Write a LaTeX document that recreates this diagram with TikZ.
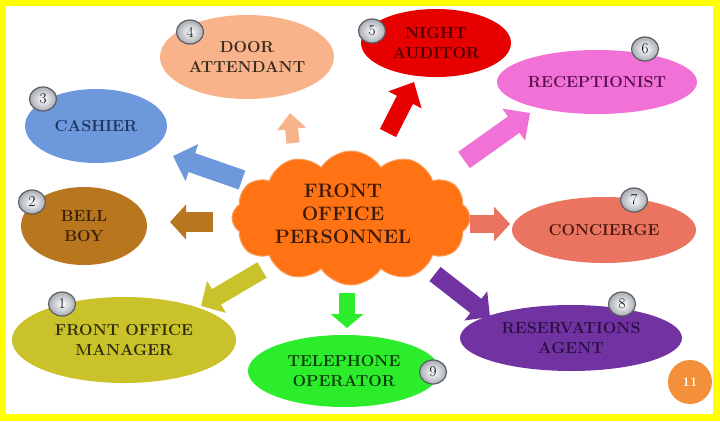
\documentclass[tikz,border=0pt]{standalone}
\usetikzlibrary{shapes.geometric,shapes.symbols,arrows.meta}
\definecolor{framey}{HTML}{FFFF00}
\definecolor{cpeach}{HTML}{F8B38A}\definecolor{tpeach}{HTML}{3B2A1E}
\definecolor{cred}{HTML}{E60000}\definecolor{tred}{HTML}{4A0000}
\definecolor{cpink}{HTML}{F171D6}\definecolor{tpink}{HTML}{5A1050}
\definecolor{cblue}{HTML}{6D98DB}\definecolor{tblue}{HTML}{1E3560}
\definecolor{cbrown}{HTML}{B8771E}\definecolor{tbrown}{HTML}{3A2208}
\definecolor{csalmon}{HTML}{EA7460}\definecolor{tsalmon}{HTML}{4A1A10}
\definecolor{colive}{HTML}{C9C22B}\definecolor{tolive}{HTML}{2E2C0C}
\definecolor{cgreen}{HTML}{2CED2C}\definecolor{tgreen}{HTML}{0B3B0B}
\definecolor{cpurple}{HTML}{7132A2}\definecolor{tpurple}{HTML}{2A0F45}
\definecolor{ccloud}{HTML}{FF7314}\definecolor{ecloud}{HTML}{F9A060}\definecolor{tcloud}{HTML}{3D1A08}
\definecolor{cslide}{HTML}{F4903A}
\definecolor{badgegray}{HTML}{A8ADB3}\definecolor{badgeedge}{HTML}{5A5E63}
\begin{document}
\begin{tikzpicture}[x=1pt,y=-1pt,
  ell/.style={ellipse, inner sep=0pt, align=center, font=\fontsize{16}{20}\selectfont\bfseries},
  badge/.style={ellipse, draw=badgeedge, line width=1.2pt, shading=radial, inner color=white, outer color=badgegray, minimum width=27pt, minimum height=24pt, inner sep=0pt, font=\fontsize{15}{15}\selectfont},
  barr/.style={line width=#1}]
\useasboundingbox (0,0) rectangle (720,421);
\fill[framey] (0,0) rectangle (720,421);
\fill[white] (6,6) rectangle (713,414);

% ellipses
\node[ell, fill=cpeach, text=tpeach, minimum width=174pt, minimum height=84pt] (door) at (247,57) {DOOR\\ATTENDANT};
\node[ell, fill=cred, text=tred, minimum width=150pt, minimum height=68pt] (night) at (436,43) {NIGHT\\AUDITOR};
\node[ell, fill=cpink, text=tpink, minimum width=200pt, minimum height=64pt] (recept) at (597,82) {RECEPTIONIST};
\node[ell, fill=cblue, text=tblue, minimum width=142pt, minimum height=74pt] (cashier) at (96,126) {CASHIER};
\node[ell, fill=cbrown, text=tbrown, minimum width=126pt, minimum height=78pt] (bell) at (84,226) {BELL\\BOY};
\node[ell, fill=csalmon, text=tsalmon, minimum width=184pt, minimum height=66pt] (conc) at (604,230) {CONCIERGE};
\node[ell, fill=colive, text=tolive, minimum width=224pt, minimum height=86pt] (mgr) at (124,340) {FRONT OFFICE\\MANAGER};
\node[ell, fill=cgreen, text=tgreen, minimum width=192pt, minimum height=72pt] (tele) at (344,371) {TELEPHONE\\OPERATOR};
\node[ell, fill=cpurple, text=tpurple, minimum width=222pt, minimum height=66pt] (res) at (571,338) {RESERVATIONS\\AGENT};

% badges
\node[badge] (b4) at (190,32) {4};
\node[badge] (b5) at (372,31) {5};
\node[badge] (b6) at (645,49) {6};
\node[badge] (b3) at (43,99) {3};
\node[badge] (b2) at (32,202) {2};
\node[badge] (b7) at (634,200) {7};
\node[badge] (b1) at (62,304) {1};
\node[badge] (b8) at (622,304) {8};
\node[badge] (b9) at (433,372) {9};

% arrow coordinates
\coordinate (a4s) at (293,143); \coordinate (a4e) at (290,113);
\coordinate (a3s) at (242,180); \coordinate (a3e) at (173,156);
\coordinate (a2s) at (213,222); \coordinate (a2e) at (170,222);
\coordinate (a1s) at (262,270); \coordinate (a1e) at (201,306);
\coordinate (a9s) at (347,293); \coordinate (a9e) at (347,328);
\coordinate (a8s) at (435,274); \coordinate (a8e) at (490,317);
\coordinate (a7s) at (470,224); \coordinate (a7e) at (510,224);
\coordinate (a6s) at (464,160); \coordinate (a6e) at (530,113);
\coordinate (a5s) at (388,133); \coordinate (a5e) at (414,82);

\draw[barr=13pt, cpeach, -{Triangle[width=28pt,length=16pt]}] (a4s) -- (a4e);
\draw[barr=20pt, cblue, -{Triangle[width=38pt,length=20pt]}] (a3s) -- (a3e);
\draw[barr=20pt, cbrown, -{Triangle[width=34pt,length=16pt]}] (a2s) -- (a2e);
\draw[barr=18pt, colive, -{Triangle[width=36pt,length=18pt]}] (a1s) -- (a1e);
\draw[barr=16pt, cgreen, -{Triangle[width=32pt,length=14pt]}] (a9s) -- (a9e);
\draw[barr=18pt, cpurple, -{Triangle[width=36pt,length=18pt]}] (a8s) -- (a8e);
\draw[barr=18pt, csalmon, -{Triangle[width=34pt,length=16pt]}] (a7s) -- (a7e);
\draw[barr=20pt, cpink, -{Triangle[width=38pt,length=20pt]}] (a6s) -- (a6e);
\draw[barr=18pt, cred, -{Triangle[width=36pt,length=20pt]}] (a5s) -- (a5e);

% cloud
\node[cloud, cloud puffs=12, cloud puff arc=115, aspect=1.8, fill=ccloud, draw=ecloud, line width=1pt, minimum width=238pt, minimum height=134pt, inner sep=0pt] (cloud) at (351,218) {};
\node[align=center, text=tcloud, font=\fontsize{19.5}{23}\selectfont\bfseries] (cloudtxt) at (343,214) {FRONT\\OFFICE\\PERSONNEL};

% slide number
\node[circle, fill=cslide, minimum size=44pt, inner sep=0pt, text=white, font=\fontsize{13}{13}\selectfont\bfseries] (pg) at (690,382) {11};
\end{tikzpicture}
\end{document}
